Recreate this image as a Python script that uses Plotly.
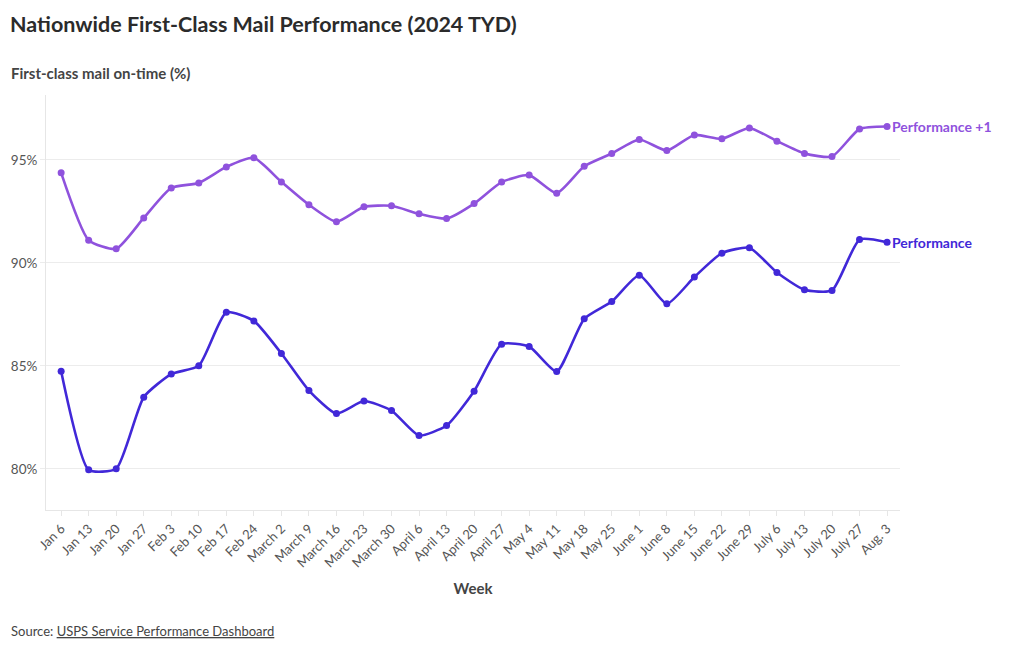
import plotly.graph_objects as go

weeks = ["Jan 6", "Jan 13", "Jan 20", "Jan 27", "Feb 3", "Feb 10", "Feb 17", "Feb 24",
         "March 2", "March 9", "March 16", "March 23", "March 30", "April 6", "April 13",
         "April 20", "April 27", "May 4", "May 11", "May 18", "May 25", "June 1", "June 8",
         "June 15", "June 22", "June 29", "July 6", "July 13", "July 20", "July 27", "Aug. 3"]

performance = [84.74, 79.95, 80.0, 83.48, 84.6, 85.0, 87.6, 87.18, 85.6, 83.8, 82.68, 83.29,
               82.83, 81.62, 82.1, 83.77, 86.05, 85.94, 84.72, 87.28, 88.12, 89.4, 88.01,
               89.31, 90.47, 90.73, 89.53, 88.69, 88.66, 91.13, 91.0]

performance_plus1 = [94.37, 91.1, 90.68, 92.18, 93.64, 93.88, 94.66, 95.1, 93.93, 92.82, 91.99,
                     92.72, 92.77, 92.38, 92.15, 92.88, 93.92, 94.26, 93.38, 94.69, 95.31,
                     95.99, 95.45, 96.21, 96.02, 96.55, 95.91, 95.31, 95.16, 96.5, 96.62]

y_ticks = [80, 85, 90, 95]
y_tick_labels = ["80%", "85%", "90%", "95%"]

series_names = ["Performance +1", "Performance"]
colors = ["#8f52dd", "#4128d8"]

FONT = "Source Sans Pro, Lato, sans-serif"

plot_l, plot_r, plot_t, plot_b = 46, 900, 95, 510
pw, ph = plot_r - plot_l, plot_b - plot_t


def px_to_paper(px, py):
    return (px - plot_l) / pw, (plot_b - py) / ph


fig = go.Figure()
for name, vals, col in zip(series_names, [performance_plus1, performance], colors):
    fig.add_trace(go.Scatter(
        x=weeks, y=vals, name=name, mode="lines+markers",
        line=dict(color=col, width=2.6, shape="spline", smoothing=0.55),
        marker=dict(color=col, size=7),
        showlegend=False,
    ))
    fig.add_annotation(
        x=weeks[-1], y=vals[-1], xref="x", yref="y",
        text="<b>" + name + "</b>", showarrow=False,
        xanchor="left", yanchor="middle", xshift=3,
        font=dict(family=FONT, size=14, color=col),
    )

fig.update_layout(
    width=1020, height=650,
    paper_bgcolor="white", plot_bgcolor="white",
    margin=dict(l=plot_l, r=1020 - plot_r, t=plot_t, b=650 - plot_b),
    font=dict(family=FONT, color="#555555"),
    title=dict(
        text="<b>Nationwide First-Class Mail Performance (2024 TYD)</b>",
        x=10 / 1020, xanchor="left", xref="container",
        y=1 - 24 / 650, yanchor="middle", yref="container",
        font=dict(family=FONT, size=21.5, color="#2b2b2b"),
    ),
    xaxis=dict(
        type="category", range=[-0.55, 30.47], automargin=False,
        tickangle=-45, tickfont=dict(family=FONT, size=13, color="#555555"),
        showgrid=False, showline=True, linecolor="#e6e6e6", linewidth=1,
        ticks="outside", ticklen=5, tickcolor="#e6e6e6",
        title=dict(text="<b>Week</b>", font=dict(family=FONT, size=15, color="#444444"),
                   standoff=14),
        fixedrange=True,
    ),
    yaxis=dict(
        range=[78.0, 98.15], tickvals=y_ticks, ticktext=y_tick_labels, automargin=False,
        tickfont=dict(family=FONT, size=13.5, color="#555555"),
        showgrid=True, gridcolor="#ececec", gridwidth=1,
        showline=True, linecolor="#e6e6e6", linewidth=1,
        ticks="outside", ticklen=5, tickcolor="#ececec",
        zeroline=False, fixedrange=True,
    ),
)

sx, sy = px_to_paper(9, 73)
fig.add_annotation(
    x=sx, y=sy, xref="paper", yref="paper",
    text="<b>First-class mail on-time (%)</b>", showarrow=False,
    xanchor="left", yanchor="middle",
    font=dict(family=FONT, size=15, color="#444444"),
)

srcx, srcy = px_to_paper(9, 631)
fig.add_annotation(
    text="Source: <u>USPS Service Performance Dashboard</u>", showarrow=False,
    xref="paper", yref="paper", xanchor="left", yanchor="middle",
    x=srcx, y=srcy, font=dict(family=FONT, size=13, color="#444444"),
)

fig.write_html("out.html", config={"displayModeBar": False},
               post_script="document.body.style.margin='0';")
